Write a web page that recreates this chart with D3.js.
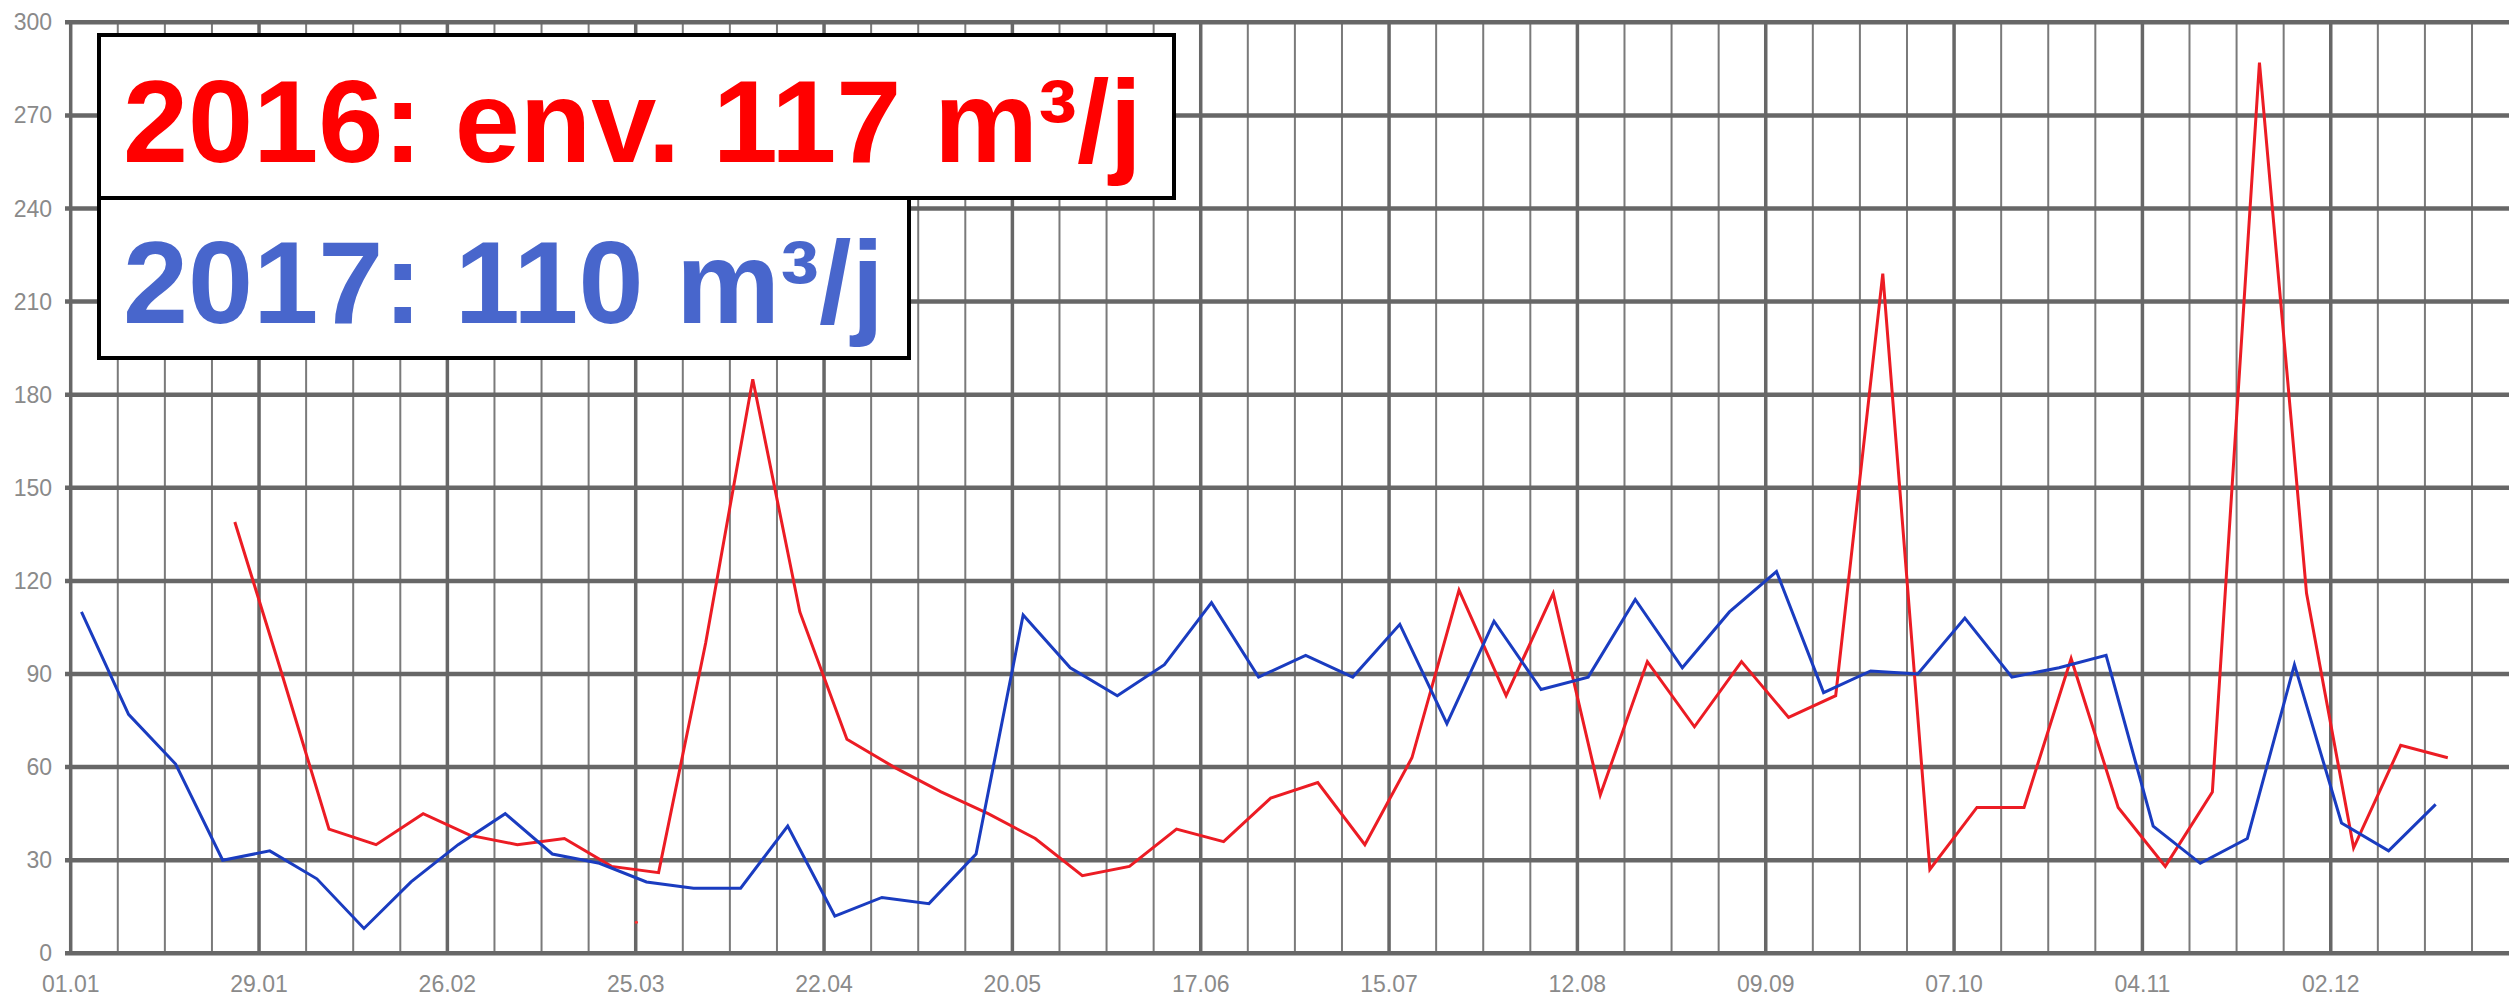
<!DOCTYPE html>
<html><head><meta charset="utf-8">
<script src="https://cdn.jsdelivr.net/npm/d3@7"></script>
<style>
html,body{margin:0;padding:0;background:#fff;}
svg{display:block;}
</style></head>
<body>
<svg id="chart" width="2509" height="998"></svg>
<script>
// ---- data ----
const xTickLabels = ["01.01","29.01","26.02","25.03","22.04","20.05","17.06","15.07","12.08","09.09","07.10","04.11","02.12"];
const yTicks = [0,30,60,90,120,150,180,210,240,270,300];
// weekly values (day of year of first point, then one point per week)
const blueStartDay = 1.6;
const blue2017 = [110,77,61,30,33,24,8,23,35,45,32,29,23,21,21,41,12,18,16,32,109,92,83,93,113,89,96,89,106,74,107,85,89,114,92,110,123,84,91,90,108,89,92,96,41,29,37,93,42,33,48];
const redStartDay = 3.4;
const red2016 = [null,null,null,139,90,40,35,45,38,35,37,28,26,100,185,110,69,60,52,45,37,25,28,40,36,50,55,35,63,117,83,116,51,94,73,94,76,83,219,27,47,47,95,47,28,52,287,116,34,67,63];
const redStray = [{day:84.1, value:10}];
const legendLines = [
  {text:"2016: env. 117 m³/j", color:"#ff0000"},
  {text:"2017: 110 m³/j", color:"#4866cc"}
];

// ---- layout ----
const svg = d3.select("#chart");
const x = d3.scaleLinear().domain([0, 362.5]).range([70.7, 2509]);
const y = d3.scaleLinear().domain([0, 300]).range([953.3, 22.3]);
const grid = "#676767";

const g = svg.append("g");
// weekly vertical grid
const weekDays = d3.range(0, 363, 7);
g.selectAll("line.vg").data(weekDays).enter().append("line")
  .attr("x1", d=>x(d)).attr("x2", d=>x(d))
  .attr("y1", y(300)).attr("y2", y(0))
  .attr("stroke", d => d % 28 === 0 ? grid : "#7a7a7a")
  .attr("stroke-width", d => d % 28 === 0 ? 3.5 : 2);
// horizontal grid
g.selectAll("line.hg").data(yTicks).enter().append("line")
  .attr("x1", 65).attr("x2", 2509)
  .attr("y1", d=>y(d)).attr("y2", d=>y(d))
  .attr("stroke", grid).attr("stroke-width", 4.5);

// y labels
g.selectAll("text.yl").data(yTicks).enter().append("text")
  .attr("x", 52).attr("y", d=>y(d))
  .attr("text-anchor","end").attr("dominant-baseline","central")
  .attr("font-family","'Liberation Sans', Arial, sans-serif")
  .attr("font-size", 23).attr("fill","#8a8a8a")
  .text(d=>d);
// x labels
g.selectAll("text.xl").data(xTickLabels).enter().append("text")
  .attr("x", (d,i)=>x(i*28)).attr("y", 992)
  .attr("text-anchor","middle")
  .attr("font-family","'Liberation Sans', Arial, sans-serif")
  .attr("font-size", 23).attr("fill","#8a8a8a")
  .text(d=>d);

// lines
const line = d3.line().defined(d=>d.value!=null).x(d=>x(d.day)).y(d=>y(d.value));
const redData = red2016.map((v,i)=>({day: redStartDay + 7*i, value: v}));
const blueData = blue2017.map((v,i)=>({day: blueStartDay + 7*i, value: v}));
g.append("path").datum(redData).attr("d", line)
  .attr("fill","none").attr("stroke","#ec1c24").attr("stroke-width",3).attr("stroke-linejoin","miter");
g.append("path").datum(blueData).attr("d", line)
  .attr("fill","none").attr("stroke","#1a3cc0").attr("stroke-width",3).attr("stroke-linejoin","miter");
g.selectAll("circle.stray").data(redStray).enter().append("circle")
  .attr("cx", d=>x(d.day)).attr("cy", d=>y(d.value)).attr("r", 1.6).attr("fill","#ff3030");

// legend boxes
const boxes = [
  {x0:99, y0:35, x1:1174, y1:198, base:162},
  {x0:99, y0:198, x1:909, y1:358, base:323}
];
boxes.forEach((b,i)=>{
  svg.append("rect").attr("x", b.x0).attr("y", b.y0)
    .attr("width", b.x1-b.x0).attr("height", b.y1-b.y0)
    .attr("fill","#fff").attr("stroke","#000").attr("stroke-width",4);
});
boxes.forEach((b,i)=>{
  svg.append("text").attr("x", 123).attr("y", b.base)
    .attr("font-family","'Liberation Sans', Arial, sans-serif")
    .attr("font-weight","bold").attr("font-size", 117)
    .attr("fill", legendLines[i].color)
    .text(legendLines[i].text);
});
</script>
</body></html>
